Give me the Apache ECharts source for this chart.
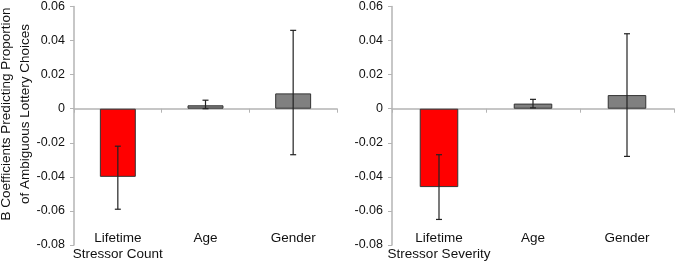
<!DOCTYPE html>
<html>
<head>
<meta charset="utf-8">
<script src="https://cdn.jsdelivr.net/npm/echarts@6/dist/echarts.min.js"></script>
<style>
  html, body { margin: 0; padding: 0; background: #fff; }
  #chart { width: 675px; height: 262px; }
</style>
</head>
<body>
<div id="chart"></div>
<script>
const countCategories = ["Lifetime\nStressor Count", "Age", "Gender"];
const severityCategories = ["Lifetime\nStressor Severity", "Age", "Gender"];
const countCoef = [-0.040, 0.002, 0.009];
const countLow = [-0.059, 0.000, -0.027];
const countHigh = [-0.022, 0.005, 0.046];
const severityCoef = [-0.046, 0.003, 0.008];
const severityLow = [-0.065, 0.0005, -0.028];
const severityHigh = [-0.027, 0.0055, 0.044];
const yMin = -0.08;
const yMax = 0.06;
const yStep = 0.02;
const yTitle = "B Coefficients Predicting Proportion\nof Ambiguous Lottery Choices";

const font = "Liberation Sans, Arial, sans-serif";
const axisGray = "#b4b4b4";
const barColors = ["#ff0000", "#808080", "#808080"];

const chart = echarts.init(document.getElementById("chart"));

const labelAxis = (grid, cats) => ({
  type: "category",
  gridIndex: grid,
  data: cats,
  position: "bottom",
  axisLine: { show: false, onZero: false },
  axisTick: { show: false },
  axisLabel: {
    interval: 0,
    margin: -15,
    fontFamily: font,
    fontSize: 13.5,
    lineHeight: 16,
    color: "#111",
    verticalAlign: "top",
  },
});

const zeroAxis = (grid, cats) => ({
  type: "category",
  gridIndex: grid,
  data: cats,
  position: "bottom",
  axisLine: { show: true, onZero: true, lineStyle: { color: axisGray, width: 1.5 } },
  axisTick: { show: true, interval: 0, length: 4, lineStyle: { color: axisGray } },
  axisLabel: { show: false },
});

const valueAxis = (grid) => ({
  type: "value",
  gridIndex: grid,
  min: yMin,
  max: yMax,
  interval: yStep,
  splitLine: { show: false },
  axisLine: { show: true, lineStyle: { color: axisGray, width: 1.5 } },
  axisTick: { show: true, length: 4, lineStyle: { color: axisGray } },
  axisLabel: {
    margin: 9,
    fontFamily: font,
    fontSize: 12.5,
    color: "#111",
    formatter: (v) => (Math.abs(v) < 1e-9 ? "0" : v.toFixed(2)),
  },
});

const barSeries = (axis, values) => ({
  type: "bar",
  xAxisIndex: axis,
  yAxisIndex: axis / 2,
  barWidth: "41%",
  data: values.map((v, i) => ({
    value: v,
    itemStyle: { color: barColors[i], borderColor: "#333", borderWidth: 1 },
  })),
  z: 2,
});

const errorSeries = (axis, lows, highs) => ({
  type: "custom",
  xAxisIndex: axis,
  yAxisIndex: axis / 2,
  data: lows.map((lo, i) => [i, lo, highs[i]]),
  z: 5,
  renderItem: (params, api) => {
    const top = api.coord([api.value(0), api.value(2)]);
    const bottom = api.coord([api.value(0), api.value(1)]);
    const half = 3;
    const style = { stroke: "#222", lineWidth: 1.2 };
    return {
      type: "group",
      children: [
        { type: "line", shape: { x1: top[0], y1: top[1], x2: bottom[0], y2: bottom[1] }, style },
        { type: "line", shape: { x1: top[0] - half, y1: top[1], x2: top[0] + half, y2: top[1] }, style },
        { type: "line", shape: { x1: bottom[0] - half, y1: bottom[1], x2: bottom[0] + half, y2: bottom[1] }, style },
      ],
    };
  },
});

chart.setOption({
  animation: false,
  grid: [
    { left: 74, right: 338, top: 6, bottom: 17 },
    { left: 392, right: 1, top: 6, bottom: 17 },
  ],
  xAxis: [
    labelAxis(0, countCategories),
    zeroAxis(0, countCategories),
    labelAxis(1, severityCategories),
    zeroAxis(1, severityCategories),
  ],
  yAxis: [valueAxis(0), valueAxis(1)],
  graphic: [
    {
      type: "text",
      x: 16,
      y: 114,
      rotation: Math.PI / 2,
      style: {
        text: yTitle,
        fontFamily: font,
        fontSize: 13.5,
        lineHeight: 19,
        fill: "#111",
        align: "center",
        verticalAlign: "middle",
      },
    },
  ],
  series: [
    barSeries(0, countCoef),
    errorSeries(0, countLow, countHigh),
    barSeries(2, severityCoef),
    errorSeries(2, severityLow, severityHigh),
  ],
});
</script>
</body>
</html>
